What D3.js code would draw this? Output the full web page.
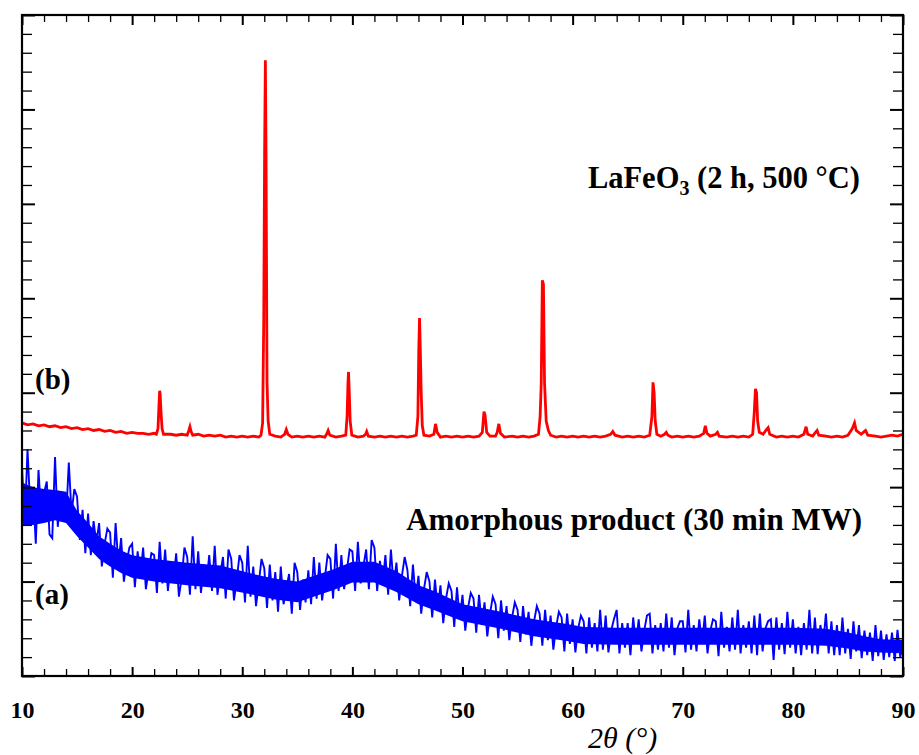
<!DOCTYPE html>
<html>
<head>
<meta charset="utf-8">
<script src="https://cdn.jsdelivr.net/npm/d3@7"></script>
<style>
  body { margin: 0; background: #fff; }
  svg { display: block; }
  .tick-label text { font-family: "Liberation Serif", "Times New Roman", serif; font-weight: bold; font-size: 24px; fill: #000; }
  .note { font-family: "Liberation Serif", "Times New Roman", serif; font-weight: bold; fill: #000; }
</style>
</head>
<body>
<svg width="919" height="755"></svg>
<script>
// x ticks (2theta, degrees)
const xMajor = [10, 20, 30, 40, 50, 60, 70, 80, 90];
const xMinor = d3.range(12, 90, 2).filter(d => d % 10 !== 0);
const yMajor = [0, 100, 200, 300, 400, 500, 600, 700];
const yMinor = d3.range(20, 700, 20).filter(d => d % 100 !== 0);

// (b) LaFeO3, 2 h 500 C : [2theta, intensity a.u.]
const patternB = [
  [10,268],[10.5,266],[11,267],[11.5,265],[12,266],[12.5,264],[13,265],[13.5,263],[14,264],[14.5,262],
  [15,263],[15.5,261],[16,262],[16.5,260],[17,261],[17.5,259],[18,260],[18.5,258],[19,259],[19.5,257],
  [20,258],[20.5,257],[21,257],[21.5,256],[22,257],[22.2,256],[22.35,262],[22.45,290],[22.5,302],[22.55,298],
  [22.62,280],[22.72,262],[22.85,256],[23.5,256],[24,255],[24.5,256],[25,255],[25.15,260],[25.25,264],[25.35,259],
  [25.5,255],[26,256],[26.5,254],[27,255],[27.5,254],[28,255],[28.5,253],[29,254],[29.5,253],[30,254],
  [30.5,253],[31,254],[31.5,253],[31.7,255],[31.85,268],[31.95,374],[32.03,553],[32.1,652],[32.16,553],[32.25,311],
  [32.35,270],[32.5,256],[33,254],[33.5,253],[33.85,256],[34,261],[34.15,256],[34.5,253],[35,254],[35.5,253],
  [36,254],[36.5,253],[37,254],[37.5,253],[37.7,257],[37.8,260],[37.95,255],[38.5,253],[39,254],[39.4,255],
  [39.52,275],[39.6,310],[39.65,322],[39.72,300],[39.8,270],[39.95,255],[40.5,253],[41,254],[41.2,256],[41.3,259],
  [41.45,254],[42,253],[42.5,254],[43,253],[43.5,254],[44,253],[44.5,254],[45,253],[45.5,254],[45.8,255],
  [45.95,275],[46.03,345],[46.1,379],[46.17,345],[46.25,300],[46.35,265],[46.5,255],[47,254],[47.4,256],[47.55,267],
  [47.7,258],[48,253],[48.5,254],[49,253],[49.5,254],[50,253],[50.5,254],[51,253],[51.5,254],[51.8,258],
  [51.95,280],[52.05,276],[52.2,258],[52.5,254],[53,254],[53.15,258],[53.3,267],[53.45,257],[53.8,253],[54.5,254],
  [55,253],[55.5,254],[56,253],[56.5,254],[56.9,256],[57.05,275],[57.15,310],[57.25,419],[57.35,415],[57.45,310],
  [57.6,270],[57.8,260],[58,255],[58.5,253],[59,254],[59.5,253],[60,254],[60.5,253],[61,254],[61.5,253],
  [62,254],[62.5,253],[63,254],[63.45,256],[63.65,259],[63.85,255],[64.5,253],[65,254],[65.5,253],[66,254],
  [66.5,253],[67,255],[67.2,275],[67.3,311],[67.4,300],[67.5,270],[67.65,256],[68,254],[68.35,256],[68.5,258],
  [68.65,255],[69,253],[69.5,254],[70,253],[70.5,254],[71,253],[71.5,254],[71.9,257],[72.05,265],[72.2,257],
  [72.5,254],[73,256],[73.15,258],[73.3,254],[74,253],[74.5,254],[75,253],[75.5,254],[76,253],[76.35,256],
  [76.5,280],[76.6,304],[76.7,300],[76.8,270],[76.95,258],[77.3,256],[77.6,261],[77.75,263],[77.9,256],[78.5,253],
  [79,254],[79.5,253],[80,254],[80.5,253],[81,256],[81.2,264],[81.35,256],[81.8,254],[82.05,258],[82.2,260],
  [82.35,255],[83,254],[83.5,253],[84,254],[84.5,253],[85,255],[85.4,262],[85.6,268],[85.75,260],[86.2,256],
  [86.5,259],[86.6,260],[86.8,255],[87.5,254],[88,253],[88.5,254],[89,255],[89.5,254],[90,256]
];

// (a) amorphous product, 30 min MW : intensity a.u., 2theta from 10 to 90 in 0.25 steps
const thetaA0 = 10, thetaAStep = 0.25;
const countsA = [
  222,160,240,178, 200,140,218,168, 194,206,150,146, 232,158,194,172, 166,226,172,198,
  190,144,176,130, 172,128,164,140, 162,116,140,156, 152,104,162,118, 146,100,120,136,
  140,94,132,106, 136,92,112,130, 128,88,142,98, 134,90,120,102, 130,84,104,136,
  126,86,148,92, 132,88,118,98, 128,90,138,86, 108,126,82,134, 124,80,102,128,
  120,78,138,84, 116,74,98,124, 114,72,118,80, 110,68,116,76, 92,108,66,120,
  110,70,102,78, 112,76,126,82, 120,80,104,128, 124,82,140,90, 128,92,112,134,
  132,90,142,98, 116,134,92,144, 136,90,122,98, 128,86,134,94, 120,80,106,126,
  112,74,118,82, 106,66,92,110, 100,62,102,70, 96,56,82,98, 90,52,94,60,
  86,48,72,88, 82,46,86,54, 78,42,66,84, 76,40,80,48, 74,38,62,78,
  70,36,74,44, 68,32,58,74, 66,32,70,38, 64,28,52,68, 62,26,66,34,
  60,25,50,64, 58,24,62,30, 56,26,70,28, 64,25,48,60, 70,24,56,30,
  56,22,62,34, 60,26,48,64, 66,24,54,28, 56,26,66,30, 62,22,50,58,
  58,25,70,28, 54,26,60,34, 64,24,48,60, 58,21,68,30, 52,26,62,28,
  70,24,54,30, 58,24,64,22, 66,26,50,58, 60,17,62,28, 56,23,68,30,
  60,24,52,22, 56,28,70,24, 62,23,54,34, 66,24,58,22, 54,22,62,24,
  50,18,58,26, 54,19,48,22, 46,16,54,21, 48,17,44,20, 46,16,49,20,
  34
];

const coreA = [
  [10,160,205],[11,160,200],[12,162,198],[13,165,197],[14,162,195],[15,148,175],[16,136,162],
  [17,124,148],[18,116,140],[19,109,133],[20,104,128],[22,100,124],[25,96,120],[28,93,117],
  [31,86,108],[33,81,103],[35,78,100],[37,86,108],[38.3,91,113],[40,99,121],[42,99,121],
  [44,89,111],[46,76,96],[47.4,70,90],[50,58,76],[53.5,50,68],[56.5,42,60],[59.5,37,55],
  [61,34,52],[64,33,51],[70,33,51],[75,33,51],[80,33,51],[83,32,50],[85,29,46],[86.5,26,42],
  [88,25,39],[90,24,38]
];

const svg = d3.select('svg');
const plotLeft = 22, plotRight = 903, plotTop = 15, plotBottom = 676;

const x = d3.scaleLinear().domain([10, 90]).range([plotLeft, plotRight]);
const y = d3.scaleLinear().domain([0, 700]).range([plotBottom, plotTop]);

// traces
const line = d3.line().x(d => x(d[0])).y(d => y(d[1]));
const band = d3.area().x(d => x(d[0])).y0(d => y(d[1])).y1(d => y(d[2]));

svg.append('path')
    .datum(coreA)
    .attr('fill', '#0000ff')
    .attr('d', band);

svg.append('path')
    .datum(countsA.map((c, i) => [thetaA0 + i * thetaAStep, c]))
    .attr('fill', 'none')
    .attr('stroke', '#0000ff')
    .attr('stroke-width', 1.9)
    .attr('d', line);

svg.append('path')
    .datum(patternB)
    .attr('fill', 'none')
    .attr('stroke', '#ff0000')
    .attr('stroke-width', 2.8)
    .attr('d', line);

// ticks, all pointing inward
function ticks(axis, values, size, tr, w, labels) {
  const a = axis.tickValues(values).tickSizeInner(size).tickSizeOuter(0);
  if (!labels) a.tickFormat('');
  const g = svg.append('g')
      .attr('class', labels ? 'tick-label' : null)
      .attr('transform', tr)
      .call(a);
  g.select('.domain').remove();
  g.selectAll('line').attr('stroke', '#000').attr('stroke-width', w);
  return g;
}

ticks(d3.axisBottom(x), xMinor, -7, `translate(0,${plotBottom})`, 1.3, false);
ticks(d3.axisBottom(x).tickPadding(25), xMajor, -9, `translate(0,${plotBottom})`, 2, true);
ticks(d3.axisTop(x), xMinor, -7, `translate(0,${plotTop})`, 1.3, false);
ticks(d3.axisTop(x), xMajor, -10, `translate(0,${plotTop})`, 2, false);
ticks(d3.axisLeft(y), yMinor, -10, `translate(${plotLeft},0)`, 1.3, false);
ticks(d3.axisLeft(y), yMajor, -13, `translate(${plotLeft},0)`, 2, false);
ticks(d3.axisRight(y), yMinor, -10, `translate(${plotRight},0)`, 1.3, false);
ticks(d3.axisRight(y), yMajor, -13, `translate(${plotRight},0)`, 2, false);

// frame
svg.append('rect')
    .attr('x', plotLeft).attr('y', plotTop)
    .attr('width', plotRight - plotLeft).attr('height', plotBottom - plotTop)
    .attr('fill', 'none')
    .attr('stroke', '#000')
    .attr('stroke-width', 2.2);

// annotations
const t1 = svg.append('text').attr('class', 'note')
    .attr('x', 860).attr('y', 188)
    .attr('text-anchor', 'end')
    .attr('font-size', 30.5);
t1.append('tspan').text('LaFeO');
t1.append('tspan').attr('font-size', 20).attr('dy', 7).text('3');
t1.append('tspan').attr('dy', -7).text(' (2 h, 500 °C)');

svg.append('text').attr('class', 'note')
    .attr('x', 862).attr('y', 530)
    .attr('text-anchor', 'end')
    .attr('font-size', 31)
    .text('Amorphous product (30 min MW)');

svg.append('text').attr('class', 'note')
    .attr('x', 35).attr('y', 389)
    .attr('font-size', 29)
    .text('(b)');

svg.append('text').attr('class', 'note')
    .attr('x', 35).attr('y', 604)
    .attr('font-size', 29)
    .text('(a)');

svg.append('text')
    .attr('x', 588).attr('y', 748)
    .attr('font-family', '"Liberation Serif", "Times New Roman", serif')
    .attr('font-style', 'italic')
    .attr('font-size', 30)
    .text('2θ (°)');
</script>
</body>
</html>
